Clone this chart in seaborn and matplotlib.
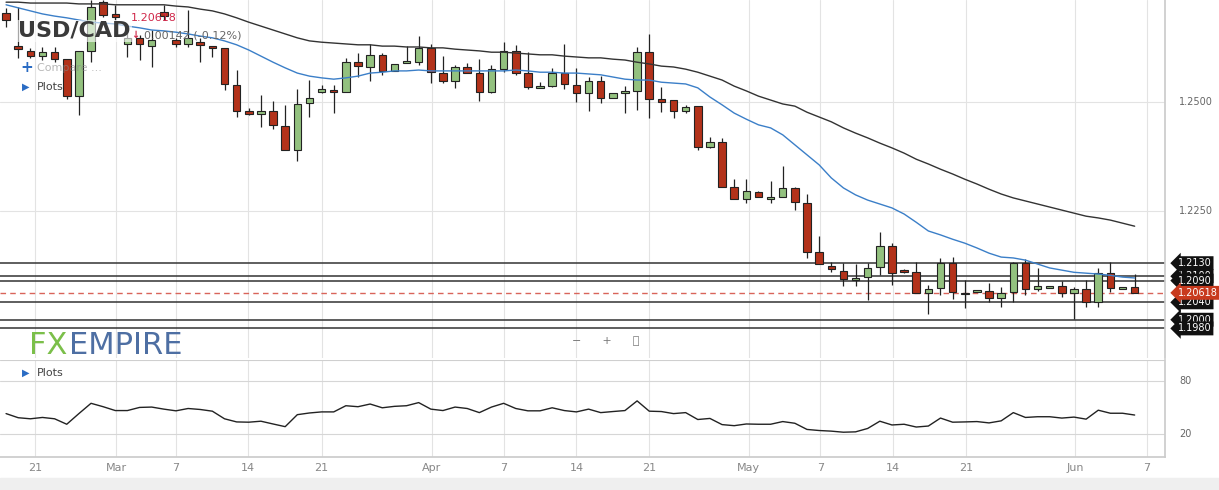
import numpy as np
import pandas as pd
import matplotlib.pyplot as plt
import seaborn as sns
from matplotlib.patches import Rectangle

# daily candles, oldest first: open, high, low, close
opens = [1.2705, 1.2629, 1.2618, 1.2606, 1.2615, 1.2599, 1.2514, 1.2618, 1.2730, 1.2703,
         1.2634, 1.2648, 1.2629, 1.2707, 1.2643, 1.2634, 1.2638, 1.2629, 1.2625, 1.2540,
         1.2480, 1.2473, 1.2480, 1.2445, 1.2390, 1.2498, 1.2523, 1.2528, 1.2523, 1.2592,
         1.2581, 1.2609, 1.2572, 1.2590, 1.2592, 1.2625, 1.2567, 1.2549, 1.2581, 1.2567,
         1.2523, 1.2576, 1.2618, 1.2567, 1.2533, 1.2537, 1.2567, 1.2540, 1.2521, 1.2549,
         1.2510, 1.2521, 1.2526, 1.2615, 1.2507, 1.2505, 1.2480, 1.2491, 1.2397, 1.2408,
         1.2305, 1.2277, 1.2293, 1.2277, 1.2282, 1.2303, 1.2268, 1.2155, 1.2123, 1.2112,
         1.2091, 1.2098, 1.2121, 1.2169, 1.2114, 1.2109, 1.2061, 1.2073, 1.2130, 1.2059,
         1.2063, 1.2066, 1.2050, 1.2063, 1.2130, 1.2070, 1.2073, 1.2077, 1.2061, 1.2070,
         1.2040, 1.2107, 1.2070, 1.2075]
highs = [1.2717, 1.2719, 1.2625, 1.2627, 1.2627, 1.2599, 1.2618, 1.2735, 1.2735, 1.2724,
         1.2666, 1.2655, 1.2666, 1.2724, 1.2648, 1.2712, 1.2648, 1.2629, 1.2625, 1.2574,
         1.2487, 1.2517, 1.2503, 1.2494, 1.2530, 1.2551, 1.2540, 1.2540, 1.2602, 1.2613,
         1.2634, 1.2613, 1.2588, 1.2629, 1.2652, 1.2634, 1.2606, 1.2586, 1.2590, 1.2599,
         1.2586, 1.2638, 1.2632, 1.2615, 1.2546, 1.2579, 1.2634, 1.2579, 1.2558, 1.2560,
         1.2521, 1.2537, 1.2627, 1.2657, 1.2535, 1.2505, 1.2494, 1.2491, 1.2420, 1.2418,
         1.2323, 1.2323, 1.2296, 1.2319, 1.2353, 1.2305, 1.2289, 1.2192, 1.2132, 1.2130,
         1.2128, 1.2130, 1.2201, 1.2176, 1.2116, 1.2132, 1.2080, 1.2142, 1.2144, 1.2091,
         1.2068, 1.2084, 1.2075, 1.2132, 1.2139, 1.2119, 1.2077, 1.2089, 1.2075, 1.2091,
         1.2119, 1.2132, 1.2075, 1.2105]
lows = [1.2673, 1.2602, 1.2602, 1.2597, 1.2592, 1.2507, 1.2471, 1.2592, 1.2696, 1.2689,
        1.2604, 1.2597, 1.2581, 1.2689, 1.2627, 1.2627, 1.2592, 1.2604, 1.2528, 1.2466,
        1.2471, 1.2443, 1.2438, 1.2390, 1.2365, 1.2466, 1.2521, 1.2475, 1.2523, 1.2558,
        1.2549, 1.2563, 1.2572, 1.2590, 1.2586, 1.2544, 1.2544, 1.2533, 1.2567, 1.2503,
        1.2521, 1.2569, 1.2563, 1.2530, 1.2533, 1.2535, 1.2530, 1.2500, 1.2480, 1.2498,
        1.2510, 1.2475, 1.2482, 1.2464, 1.2477, 1.2464, 1.2475, 1.2390, 1.2395, 1.2305,
        1.2277, 1.2268, 1.2282, 1.2268, 1.2282, 1.2252, 1.2142, 1.2128, 1.2109, 1.2077,
        1.2077, 1.2045, 1.2102, 1.2080, 1.2107, 1.2061, 1.2013, 1.2057, 1.2047, 1.2027,
        1.2063, 1.2040, 1.2029, 1.2040, 1.2057, 1.2066, 1.2073, 1.2052, 1.2002, 1.2029,
        1.2029, 1.2063, 1.2070, 1.2061]
closes = [1.2689, 1.2622, 1.2606, 1.2615, 1.2599, 1.2514, 1.2618, 1.2719, 1.2701, 1.2696,
          1.2648, 1.2634, 1.2643, 1.2698, 1.2634, 1.2648, 1.2632, 1.2625, 1.2542, 1.2480,
          1.2473, 1.2480, 1.2448, 1.2390, 1.2496, 1.2510, 1.2530, 1.2523, 1.2592, 1.2583,
          1.2609, 1.2572, 1.2588, 1.2595, 1.2625, 1.2569, 1.2549, 1.2581, 1.2567, 1.2523,
          1.2576, 1.2618, 1.2567, 1.2535, 1.2537, 1.2567, 1.2542, 1.2521, 1.2549, 1.2510,
          1.2521, 1.2526, 1.2615, 1.2507, 1.2500, 1.2480, 1.2489, 1.2397, 1.2408, 1.2305,
          1.2277, 1.2296, 1.2282, 1.2282, 1.2303, 1.2270, 1.2155, 1.2128, 1.2116, 1.2093,
          1.2096, 1.2119, 1.2169, 1.2107, 1.2109, 1.2061, 1.2070, 1.2130, 1.2063, 1.2061,
          1.2068, 1.2050, 1.2061, 1.2130, 1.2070, 1.2077, 1.2077, 1.2061, 1.2070, 1.2040,
          1.2107, 1.2073, 1.2075, 1.2062]

ma_fast = [1.2724, 1.2717, 1.2710, 1.2703, 1.2698, 1.2694, 1.2689, 1.2684, 1.2682, 1.2680,
           1.2675, 1.2671, 1.2666, 1.2664, 1.2661, 1.2657, 1.2652, 1.2648, 1.2641, 1.2632,
           1.2620, 1.2606, 1.2592, 1.2579, 1.2567, 1.2560, 1.2556, 1.2553, 1.2556, 1.2560,
           1.2567, 1.2569, 1.2572, 1.2572, 1.2574, 1.2572, 1.2572, 1.2572, 1.2572, 1.2572,
           1.2572, 1.2572, 1.2574, 1.2572, 1.2569, 1.2569, 1.2567, 1.2567, 1.2565, 1.2563,
           1.2558, 1.2553, 1.2551, 1.2551, 1.2546, 1.2544, 1.2542, 1.2533, 1.2512, 1.2494,
           1.2475, 1.2461, 1.2448, 1.2441, 1.2425, 1.2402, 1.2379, 1.2356, 1.2326, 1.2303,
           1.2287, 1.2275, 1.2266, 1.2257, 1.2243, 1.2224, 1.2204, 1.2195, 1.2185, 1.2176,
           1.2165, 1.2153, 1.2144, 1.2142, 1.2137, 1.2128, 1.2119, 1.2114, 1.2109, 1.2107,
           1.2105, 1.2102, 1.2098, 1.2096]
ma_slow = [1.2730, 1.2730, 1.2728, 1.2728, 1.2728, 1.2728, 1.2726, 1.2726, 1.2726, 1.2724,
           1.2724, 1.2724, 1.2724, 1.2724, 1.2721, 1.2719, 1.2714, 1.2710, 1.2703, 1.2694,
           1.2684, 1.2675, 1.2666, 1.2657, 1.2648, 1.2641, 1.2638, 1.2636, 1.2634, 1.2632,
           1.2632, 1.2629, 1.2629, 1.2627, 1.2627, 1.2625, 1.2625, 1.2622, 1.2620, 1.2618,
           1.2615, 1.2615, 1.2613, 1.2611, 1.2609, 1.2609, 1.2606, 1.2604, 1.2602, 1.2602,
           1.2599, 1.2597, 1.2592, 1.2588, 1.2583, 1.2581, 1.2576, 1.2569, 1.2560, 1.2551,
           1.2537, 1.2526, 1.2514, 1.2505, 1.2496, 1.2491, 1.2477, 1.2466, 1.2455, 1.2441,
           1.2429, 1.2418, 1.2406, 1.2395, 1.2383, 1.2369, 1.2358, 1.2346, 1.2335, 1.2323,
           1.2312, 1.2300, 1.2289, 1.2280, 1.2273, 1.2266, 1.2259, 1.2252, 1.2245, 1.2238,
           1.2234, 1.2229, 1.2222, 1.2215]
oscillator = [43.1, 38.5, 37.3, 38.8, 37.3, 31.2, 43.1, 54.6, 50.8, 46.5,
              46.5, 50.0, 50.4, 48.1, 46.2, 48.8, 47.7, 45.8, 37.3, 33.8,
              33.5, 34.6, 31.5, 28.5, 41.9, 43.8, 45.0, 45.0, 51.9, 50.8,
              53.8, 49.6, 51.2, 51.9, 55.4, 48.1, 46.5, 50.4, 48.8, 44.2,
              50.4, 54.6, 48.8, 46.2, 46.2, 49.6, 46.5, 45.0, 48.1, 44.2,
              45.4, 46.5, 57.3, 45.8, 45.4, 43.1, 44.2, 36.5, 37.7, 30.8,
              29.6, 31.5, 31.2, 31.2, 34.2, 32.3, 25.4, 24.2, 23.5, 22.3,
              22.7, 26.5, 34.6, 30.4, 31.2, 28.1, 29.2, 38.1, 33.5, 33.8,
              34.2, 32.7, 35.0, 44.2, 38.8, 39.6, 39.6, 38.1, 39.2, 36.9,
              46.9, 43.5, 43.5, 41.5]

level_lines = [1.2130, 1.2100, 1.2090, 1.2040, 1.2000, 1.1980]
last_price = 1.20618
date_labels = ["21", "Mar", "7", "14", "21", "Apr", "7", "14", "21",
               "May", "7", "14", "21", "Jun", "7"]
date_ticks = [2.4, 9.1, 14.0, 19.9, 26.0, 35.1, 41.0, 47.0, 53.0,
              61.2, 67.1, 73.1, 79.1, 88.1, 94.0]

df = pd.DataFrame({"open": opens, "high": highs, "low": lows, "close": closes,
                   "ma_fast": ma_fast, "ma_slow": ma_slow, "osc": oscillator})
df["i"] = np.arange(len(df))

GREEN = "#93c17f"
RED = "#b3321a"
GRID = "#e3e3e3"

sns.set_theme(style="white")
fig = plt.figure(figsize=(12.19, 4.90), dpi=100)
ax = fig.add_axes([0, 132 / 490, 1165 / 1219, 358 / 490])
ax2 = fig.add_axes([0, 33 / 490, 1165 / 1219, 97 / 490])
fig.patches.append(Rectangle((0, 0), 1, 12 / 490, transform=fig.transFigure,
                             color="#efefef", zorder=0))

for a in (ax, ax2):
    a.set_xlim(-0.5, 95.5)
    for t in date_ticks:
        a.axvline(t, color=GRID, lw=0.8, zorder=0)
    a.set_xticks([])
    for s in ["left", "top", "bottom"]:
        a.spines[s].set_visible(False)
    a.spines["right"].set_color("#cccccc")

# price panel
ax.set_ylim(1.1912, 1.2735)
for gy in (1.2500, 1.2250):
    ax.axhline(gy, color=GRID, lw=0.8, zorder=0)
ax.set_yticks([])
for y, lab in [(1.2500, "1.2500"), (1.2250, "1.2250")]:
    ax.text(1.012, y, lab, transform=ax.get_yaxis_transform(), fontsize=7,
            color="#666666", va="center", ha="left")

up = df["close"] >= df["open"]
colors = np.where(up, GREEN, RED)
ax.vlines(df["i"], df["low"], df["high"], color="#222222", lw=0.9, zorder=2)
ax.bar(df["i"], (df["close"] - df["open"]).abs().clip(lower=0.00015),
       bottom=df[["open", "close"]].min(axis=1), width=0.62, color=colors,
       edgecolor="#222222", linewidth=0.8, zorder=3)

sns.lineplot(data=df, x="i", y="ma_slow", ax=ax, color="#333333", lw=1.0, zorder=4)
sns.lineplot(data=df, x="i", y="ma_fast", ax=ax, color="#3b7fc8", lw=1.0, zorder=4)
ax.set_xlabel("")
ax.set_ylabel("")

for lv in level_lines:
    ax.axhline(lv, color="#333333", lw=1.1, zorder=1)
ax.axhline(last_price, color="#d9645a", lw=1.0, ls=(0, (4, 3)), zorder=1)

for lv in level_lines:
    ax.annotate(f"{lv:.4f}", xy=(1.0, lv), xycoords=("axes fraction", "data"),
                xytext=(1.011, lv), textcoords=("axes fraction", "data"),
                fontsize=7, color="white", va="center", ha="left",
                bbox=dict(boxstyle="larrow,pad=0.2", fc="#111111", ec="none"),
                annotation_clip=False)
ax.annotate(f"{last_price:.5f}", xy=(1.0, last_price), xycoords=("axes fraction", "data"),
            xytext=(1.011, last_price), textcoords=("axes fraction", "data"),
            fontsize=7, color="white", va="center", ha="left",
            bbox=dict(boxstyle="larrow,pad=0.2", fc="#c83a1e", ec="none"),
            annotation_clip=False)

# header overlays
fig.text(18 / 1219, 1 - 31 / 490, "USD/CAD", fontsize=16, fontweight="bold",
         color="#3a3a3a", va="center", ha="left",
         bbox=dict(fc="white", ec="none", alpha=0.6, pad=1))
fig.text(131 / 1219, 1 - 18 / 490, f"{last_price:.5f}", fontsize=8, color="#d0284a",
         va="center")
fig.text(131 / 1219, 1 - 35 / 490, "\u2193", fontsize=7, color="#d0284a",
         fontweight="bold", va="center")
fig.text(144 / 1219, 1 - 35 / 490, "0.00142 (-0.12%)", fontsize=8, color="#666666",
         va="center")
fig.text(20 / 1219, 1 - 68 / 490, "+", fontsize=11, color="#2a6cc4", va="center",
         fontweight="bold")
fig.text(37 / 1219, 1 - 68 / 490, "Compare ...", fontsize=8, color="#888888",
         va="center", alpha=0.6)
fig.text(22 / 1219, 1 - 87 / 490, "\u25B6", fontsize=7, color="#2a6cc4", va="center")
fig.text(37 / 1219, 1 - 87 / 490, "Plots", fontsize=8, color="#444444", va="center")

fig.text(29 / 1219, 1 - 345 / 490, "FX", fontsize=22, color="#7bbf4a", va="center")
fig.text(69 / 1219, 1 - 345 / 490, "EMPIRE", fontsize=22, color="#4e6fa3", va="center")
fig.text(572 / 1219, 1 - 341 / 490, "\u2212      +      \u26F6", fontsize=8,
         color="#777777", va="center")

# oscillator panel
ax2.set_ylim(-5.4, 103)
for gy in (80, 20):
    ax2.axhline(gy, color="#d6d6d6", lw=0.8, zorder=0)
ax2.axhline(103, color="#cfcfcf", lw=0.8)
ax2.spines["bottom"].set_visible(True)
ax2.spines["bottom"].set_color("#cccccc")
sns.lineplot(data=df, x="i", y="osc", ax=ax2, color="#222222", lw=1.0)
ax2.set_xlabel("")
ax2.set_ylabel("")
ax2.set_yticks([])
for y in (80, 20):
    ax2.text(1.012, y, str(y), transform=ax2.get_yaxis_transform(), fontsize=7,
             color="#666666", va="center", ha="left")
fig.text(22 / 1219, 1 - 373 / 490, "\u25B6", fontsize=7, color="#2a6cc4", va="center")
fig.text(37 / 1219, 1 - 373 / 490, "Plots", fontsize=8, color="#444444", va="center")
for t, lab in zip(date_ticks, date_labels):
    ax2.text(t, -18, lab, ha="center", va="center", fontsize=8, color="#888888",
             clip_on=False)

fig.savefig("out.png", dpi=100)
